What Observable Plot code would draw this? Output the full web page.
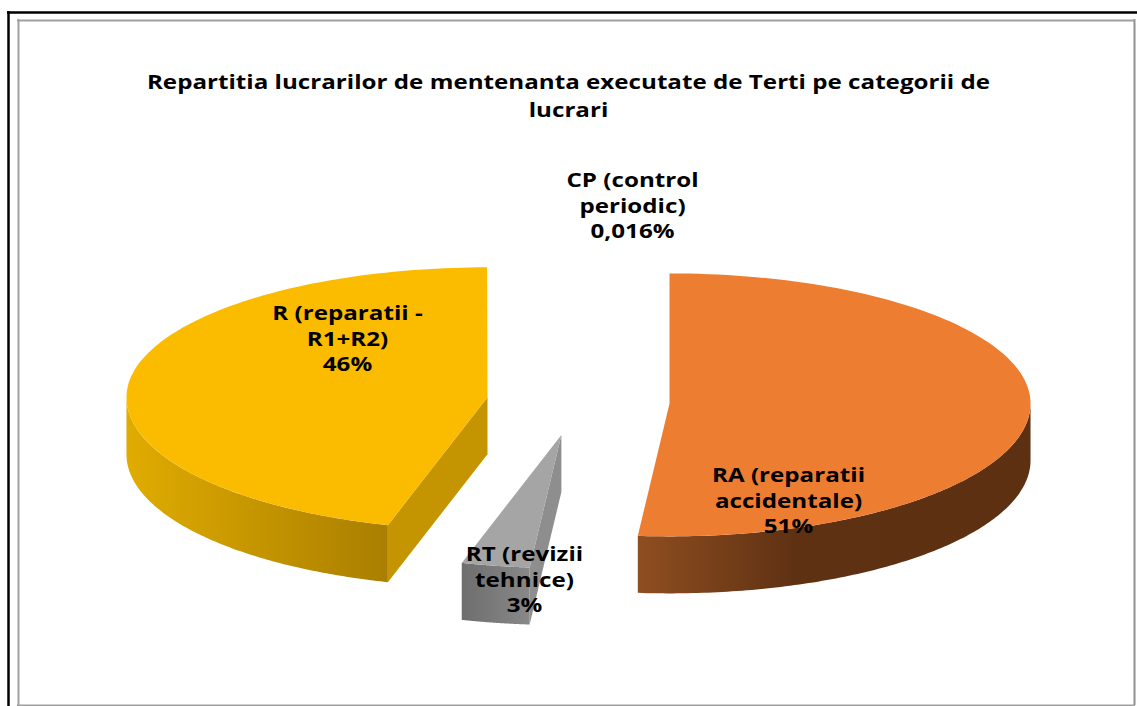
<!DOCTYPE html>
<html><head><meta charset="utf-8">
<style>html,body{margin:0;padding:0;background:#fff;overflow:hidden}svg{display:block}</style>
<script src="https://cdn.jsdelivr.net/npm/d3@7"></script>
<script src="https://cdn.jsdelivr.net/npm/@observablehq/plot@0.6"></script>
</head><body><div id="chart"></div>
<script>
// Data
const categories = ["RA", "RT", "R", "CP"];
const shares = [51.4, 3.05, 45.534, 0.016];
const sliceLabels = ["RA (reparatii\naccidentale)\n51%", "RT (revizii\ntehnice)\n3%", "R (reparatii -\nR1+R2)\n46%", "CP (control\nperiodic)\n0,016%"];
const titleText = "Repartitia lucrarilor de mentenanta executate de Terti pe categorii de\nlucrari";

// Styles per category
const topColors = ["#ed7d31", "#a5a5a5", "#fbbc00", "none"];
const cutColors = ["none", "#8e8e8e", "#c49500", "none"];
const sideFills = ["url(#sideRA)", "url(#sideRT)", "url(#sideR)", "none"];

// Layout
const W = 1137, H = 706;
const centre = [577.6, 401.4], rx = 361, ryBack = 130, ryFront = 133, depth = 57, explode = 0.2535;
const labelAnchors = [[788, 499], [524, 578], [347, 337], [632, 204]];
const FONT = "'Open Sans', sans-serif";
const textStretch = 1.24;

const rad = d => d * Math.PI / 180;
const total = d3.sum(shares);
let acc = 0;
const slices = categories.map((c, i) => {
  const a0 = acc / total * 360; acc += shares[i]; const a1 = acc / total * 360;
  const mid = rad((a0 + a1) / 2);
  const ox = centre[0] + explode * rx * Math.sin(mid);
  const oy = centre[1] - explode * (Math.cos(mid) > 0 ? ryBack : ryFront) * Math.cos(mid);
  return {c, i, a0, a1, ox, oy};
});
const rim = (s, deg, dz = 0) => {
  const t = rad(deg), co = Math.cos(t);
  return {x: s.ox + rx * Math.sin(t), y: s.oy - (co > 0 ? ryBack : ryFront) * co + dz};
};
const sweep = (a, b) => d3.range(0, 121).map(k => a + (b - a) * k / 120);

const marks = [
  Plot.ruleX([8], {y1: 11, y2: H, stroke: "#000", strokeWidth: 2.5}),
  Plot.ruleY([12], {x1: 7, x2: W, stroke: "#000", strokeWidth: 2.5}),
  Plot.ruleX([18], {y1: 19, y2: 705, stroke: "#a0a0a0", strokeWidth: 2}),
  Plot.ruleX([1134], {y1: 19, y2: 705, stroke: "#909090", strokeWidth: 2}),
  Plot.ruleY([20], {x1: 17, x2: 1135, stroke: "#a0a0a0", strokeWidth: 2}),
  Plot.ruleY([705], {x1: 17, x2: 1135, stroke: "#a0a0a0", strokeWidth: 2})
];

// Back-to-front drawing order: R, RT, RA
for (const s of [slices[2], slices[1], slices[0]]) {
  const lo = Math.max(s.a0, 90), hi = Math.min(s.a1, 270);
  if (hi > lo) {
    const top = sweep(lo, hi).map(a => rim(s, a));
    const bot = sweep(hi, lo).map(a => rim(s, a, depth));
    marks.push(Plot.line([...top, ...bot], {x: "x", y: "y", fill: sideFills[s.i], stroke: "none"}));
  }
  if (Math.sin(rad(s.a0)) < -1e-6) {
    const e = rim(s, s.a0);
    const cut = [{x: s.ox, y: s.oy}, e, {x: e.x, y: e.y + depth}, {x: s.ox, y: s.oy + depth}];
    marks.push(Plot.line(cut, {x: "x", y: "y", fill: cutColors[s.i], stroke: "none"}));
  }
  const face = [{x: s.ox, y: s.oy}, ...sweep(s.a0, s.a1).map(a => rim(s, a))];
  marks.push(Plot.line(face, {x: "x", y: "y", fill: topColors[s.i], stroke: "none"}));
}

marks.push(Plot.text([titleText], {
  x: () => 568, y: () => 93.5, text: d => d, lineAnchor: "middle", textAnchor: "middle",
  fontFamily: FONT, fontWeight: 700, fontSize: 19.5, lineHeight: 1.44, fill: "#000"
}));
marks.push(Plot.text(sliceLabels, {
  x: (d, i) => labelAnchors[i][0], y: (d, i) => labelAnchors[i][1], text: d => d,
  textAnchor: "middle", lineAnchor: "middle",
  fontFamily: FONT, fontWeight: 700, fontSize: 19.5, lineHeight: 1.32, fill: "#000"
}));

const chart = Plot.plot({
  width: W, height: H, margin: 0,
  x: {domain: [0, W], range: [0, W], axis: null},
  y: {domain: [0, H], range: [0, H], axis: null},
  style: {background: "#fff"},
  marks
});

// Shaded gradients used by the rim faces
const defs = d3.select(chart).insert("defs", ":first-child");
const grad = (id, stops) => {
  const g = defs.append("linearGradient").attr("id", id).attr("x1", 0).attr("x2", 1).attr("y1", 0).attr("y2", 0);
  stops.forEach(([o, c]) => g.append("stop").attr("offset", o).attr("stop-color", c));
};
grad("sideR", [[0, "#e0ac00"], [1, "#aa7e00"]]);
grad("sideRA", [[0, "#8f4e20"], [0.4, "#5f3113"], [1, "#5e3012"]]);
grad("sideRT", [[0, "#6e6e6e"], [1, "#888888"]]);

// The reference's lettering is horizontally stretched
d3.select(chart).selectAll("text").each(function () {
  const t = this.getAttribute("transform") || "";
  this.setAttribute("transform", `${t} scale(${textStretch},1)`);
});
document.getElementById("chart").append(chart);
</script></body></html>
